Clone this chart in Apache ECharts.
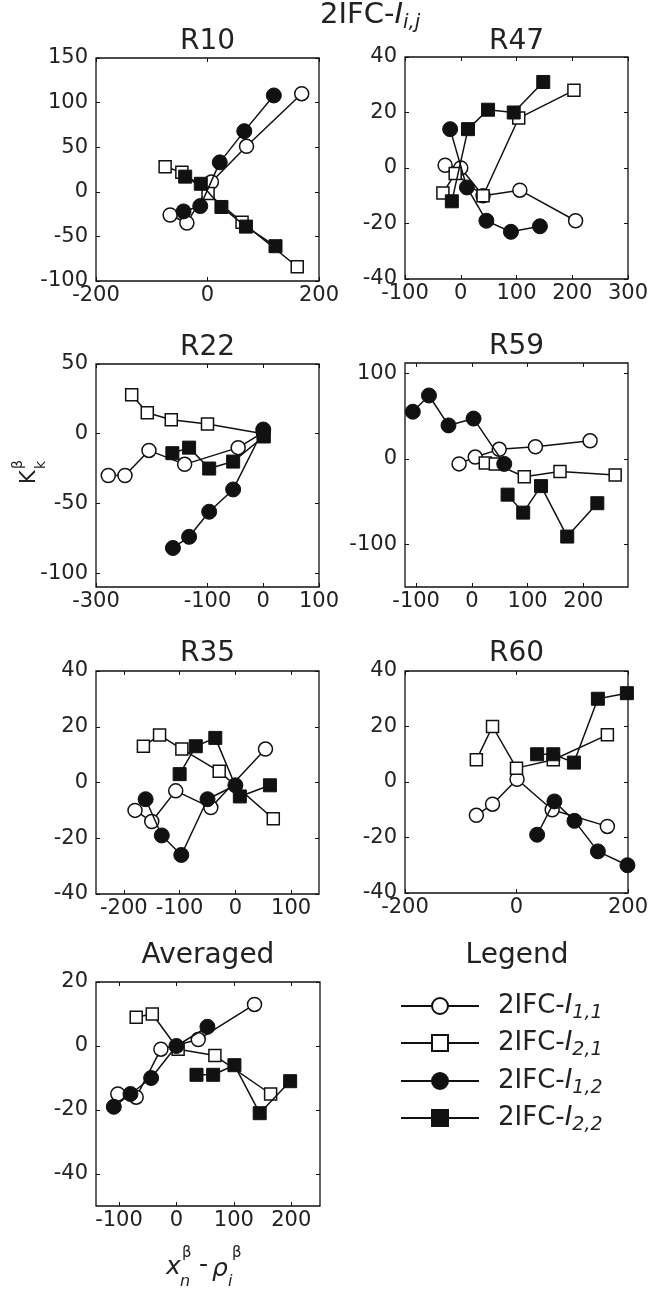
<!DOCTYPE html>
<html>
<head>
<meta charset="utf-8">
<script src="https://cdn.jsdelivr.net/npm/echarts@6/dist/echarts.min.js"></script>
<style>
html,body{margin:0;padding:0;background:#fff;}
#chart{width:652px;height:1290px;}
</style>
</head>
<body>
<div id="chart"></div>
<script>
// ---------- data ----------
const panelTitles = ['R10', 'R47', 'R22', 'R59', 'R35', 'R60', 'Averaged'];
const seriesNames = ['I11', 'I21', 'I12', 'I22'];
const seriesSubs = ['1,1', '2,1', '1,2', '2,2'];

const r10_I11 = [[-67,-26],[-37,-35],[7,11],[70,51],[169,110]];
const r10_I21 = [[-76,28],[-46,22],[1,-2],[62,-34],[161,-84]];
const r10_I12 = [[-43,-22],[-13,-16],[22,33],[66,68],[119,108]];
const r10_I22 = [[-40,17],[-12,9],[25,-17],[69,-39],[122,-61]];

const r47_I11 = [[-28,1],[0,0],[40,-10],[106,-8],[206,-19]];
const r47_I21 = [[-32,-9],[-10,-2],[40,-10],[104,18],[203,28]];
const r47_I12 = [[-19,14],[11,-7],[46,-19],[90,-23],[142,-21]];
const r47_I22 = [[-16,-12],[13,14],[49,21],[95,20],[148,31]];

const r22_I11 = [[-278,-30],[-248,-30],[-205,-12],[-141,-22],[-45,-10],[0,1]];
const r22_I21 = [[-236,28],[-208,15],[-165,10],[-100,7],[0,0]];
const r22_I12 = [[-162,-82],[-133,-74],[-97,-56],[-54,-40],[0,3]];
const r22_I22 = [[-163,-14],[-133,-10],[-97,-25],[-54,-20],[1,-2]];

const r59_I11 = [[-23,-6],[6,2],[49,11],[114,14],[212,21]];
const r59_I21 = [[24,-5],[42,-6],[94,-21],[158,-15],[257,-19]];
const r59_I12 = [[-106,55],[-77,74],[-42,39],[3,47],[58,-6]];
const r59_I22 = [[64,-42],[92,-63],[124,-32],[171,-91],[225,-52]];

const r35_I11 = [[-180,-10],[-150,-14],[-107,-3],[-44,-9],[54,12]];
const r35_I21 = [[-165,13],[-136,17],[-96,12],[-29,4],[68,-13]];
const r35_I12 = [[-161,-6],[-132,-19],[-97,-26],[-50,-6],[0,-1]];
const r35_I22 = [[-100,3],[-71,13],[-36,16],[8,-5],[62,-1]];

const r60_I11 = [[-72,-12],[-43,-8],[1,1],[64,-10],[163,-16]];
const r60_I21 = [[-72,8],[-43,20],[0,5],[66,8],[163,17]];
const r60_I12 = [[37,-19],[68,-7],[104,-14],[146,-25],[199,-30]];
const r60_I22 = [[37,10],[66,10],[103,7],[146,30],[198,32]];

const avg_I11 = [[-102,-15],[-70,-16],[-27,-1],[38,2],[136,13]];
const avg_I21 = [[-70,9],[-42,10],[3,-1],[67,-3],[164,-15]];
const avg_I12 = [[-109,-19],[-80,-15],[-44,-10],[0,0],[54,6]];
const avg_I22 = [[35,-9],[64,-9],[101,-6],[145,-21],[198,-11]];

const xRanges = [[-200,200],[-100,300],[-300,100],[-120,280],[-250,150],[-200,200],[-140,250]];
const yRanges = [[-100,150],[-40,40],[-110,50],[-150,112],[-40,40],[-40,40],[-50,20]];
const xTicks = [[-200,0,200],[-100,0,100,200,300],[-300,-100,0,100],[-100,0,100,200],[-200,-100,0,100],[-200,0,200],[-100,0,100,200]];
const yTicks = [[-100,-50,0,50,100,150],[-40,-20,0,20,40],[-100,-50,0,50],[-100,0,100],[-40,-20,0,20,40],[-40,-20,0,20,40],[-40,-20,0,20]];

const panelData = [
  [r10_I11, r10_I21, r10_I12, r10_I22],
  [r47_I11, r47_I21, r47_I12, r47_I22],
  [r22_I11, r22_I21, r22_I12, r22_I22],
  [r59_I11, r59_I21, r59_I12, r59_I22],
  [r35_I11, r35_I21, r35_I12, r35_I22],
  [r60_I11, r60_I21, r60_I12, r60_I22],
  [avg_I11, avg_I21, avg_I12, avg_I22]
];

// ---------- layout / style ----------
const F = 'DejaVu Sans';
const TXT = '#222';
const INK = '#111';
const gridBoxes = [
  [96,58,223,223],[405,57,223,222],
  [96,364,223,223],[405,363,223,224],
  [96,671,223,223],[405,671,223,222],
  [96,982,224,224]
];
const titleY = [42, 42, 348, 347, 654, 654, 956];

const markerStyles = [
  {symbol:'circle', symbolSize:14, itemStyle:{color:'#fff', borderColor:INK, borderWidth:1.5}},
  {symbol:'rect', symbolSize:12, itemStyle:{color:'#fff', borderColor:INK, borderWidth:1.5}},
  {symbol:'circle', symbolSize:15, itemStyle:{color:INK, borderColor:INK, borderWidth:1}},
  {symbol:'rect', symbolSize:13, itemStyle:{color:INK, borderColor:INK, borderWidth:1}}
];

const grids = [], xAxes = [], yAxes = [], series = [], graphics = [];

gridBoxes.forEach((b, i) => {
  grids.push({left:b[0], top:b[1], width:b[2], height:b[3], show:true,
    borderColor:INK, borderWidth:1.3, backgroundColor:'transparent', containLabel:false});
  const tick = vals => ({show:true, inside:true, length:4, customValues:vals, lineStyle:{color:INK, width:1}});
  xAxes.push({gridIndex:i, type:'value', position:'bottom', min:xRanges[i][0], max:xRanges[i][1],
    axisLine:{show:false, onZero:false}, splitLine:{show:false}, axisTick:tick(xTicks[i]),
    axisLabel:{customValues:xTicks[i], fontFamily:F, fontSize:21, color:TXT, margin:4}});
  xAxes.push({gridIndex:i, type:'value', position:'top', min:xRanges[i][0], max:xRanges[i][1],
    axisLine:{show:false, onZero:false}, splitLine:{show:false}, axisTick:tick(xTicks[i]),
    axisLabel:{show:false}});
  yAxes.push({gridIndex:i, type:'value', position:'left', min:yRanges[i][0], max:yRanges[i][1],
    axisLine:{show:false, onZero:false}, splitLine:{show:false}, axisTick:tick(yTicks[i]),
    axisLabel:{customValues:yTicks[i], fontFamily:F, fontSize:21, color:TXT, margin:8}});
  yAxes.push({gridIndex:i, type:'value', position:'right', min:yRanges[i][0], max:yRanges[i][1],
    axisLine:{show:false, onZero:false}, splitLine:{show:false}, axisTick:tick(yTicks[i]),
    axisLabel:{show:false}});
  panelData[i].forEach((d, k) => {
    series.push(Object.assign({
      type:'line', name:seriesNames[k], data:d, xAxisIndex:2*i, yAxisIndex:2*i,
      lineStyle:{color:INK, width:1.5}, showSymbol:true, clip:false, animation:false,
      emphasis:{disabled:true}, z:2+k
    }, JSON.parse(JSON.stringify(markerStyles[k]))));
  });
  graphics.push({type:'text', x:b[0] + b[2]/2, y:titleY[i],
    style:{text:panelTitles[i], fontSize:28, fontFamily:F, fill:TXT, align:'center', verticalAlign:'middle'}});
});

// Legend title
graphics.push({type:'text', x:517, y:956,
  style:{text:'Legend', fontSize:28, fontFamily:F, fill:TXT, align:'center', verticalAlign:'middle'}});

// Main title
graphics.push({type:'text', x:320, y:15,
  style:{text:'{a|2IFC-}{b|I}{c|i,j}', align:'left', verticalAlign:'middle',
    rich:{
      a:{fontSize:29, fontFamily:F, fill:TXT, lineHeight:36},
      b:{fontSize:29, fontFamily:F, fontStyle:'italic', fill:TXT, lineHeight:36},
      c:{fontSize:20, fontFamily:F, fontStyle:'italic', fill:TXT, lineHeight:16, verticalAlign:'bottom'}
    }}});

// Y axis label  K_k^beta (rotated)
graphics.push({type:'group', x:29.5, y:477, rotation:Math.PI/2, children:[
  {type:'text', x:0, y:0, style:{text:'K', fontSize:21, fontFamily:F, fill:TXT, align:'center', verticalAlign:'middle'}},
  {type:'text', x:8, y:-11, style:{text:'β', fontSize:14, fontFamily:F, fill:TXT, align:'left', verticalAlign:'middle'}},
  {type:'text', x:8, y:12, style:{text:'k', fontSize:14, fontFamily:F, fill:TXT, align:'left', verticalAlign:'middle'}}
]});

// X axis label  x_n^beta - rho_i^beta
const xl = (t, x, y, fs, it) => ({type:'text', x, y,
  style:{text:t, fontSize:fs, fontFamily:F, fontStyle:it ? 'italic' : 'normal', fill:TXT, align:'left', verticalAlign:'middle'}});
graphics.push(xl('x', 166, 1267, 25, true));
graphics.push(xl('β', 182, 1253, 15, false));
graphics.push(xl('n', 180, 1282, 16, true));
graphics.push(xl('-', 199, 1265, 25, false));
graphics.push(xl('ρ', 212, 1269, 25, true));
graphics.push(xl('β', 232, 1253, 15, false));
graphics.push(xl('i', 228, 1282, 16, true));

// Legends
const legendTops = [993, 1030, 1068, 1105];
const legends = seriesNames.map((n, k) => ({
  data:[n], left:400, top:legendTops[k], orient:'horizontal', padding:0,
  itemWidth:78, itemHeight:20, selectedMode:false,
  formatter: () => '{a|2IFC-}{b|I}{c|' + seriesSubs[k] + '}',
  textStyle:{color:TXT, rich:{
    a:{fontSize:26, fontFamily:F, color:TXT, lineHeight:34, padding:[0,0,0,14]},
    b:{fontSize:26, fontFamily:F, fontStyle:'italic', color:TXT, lineHeight:34},
    c:{fontSize:19, fontFamily:F, fontStyle:'italic', color:TXT, lineHeight:10, verticalAlign:'bottom'}
  }}
}));

const chart = echarts.init(document.getElementById('chart'), null, {renderer:'canvas'});
chart.setOption({
  backgroundColor:'#fff',
  animation:false,
  grid:grids, xAxis:xAxes, yAxis:yAxes, series:series,
  legend:legends,
  graphic:graphics
});
</script>
</body>
</html>
